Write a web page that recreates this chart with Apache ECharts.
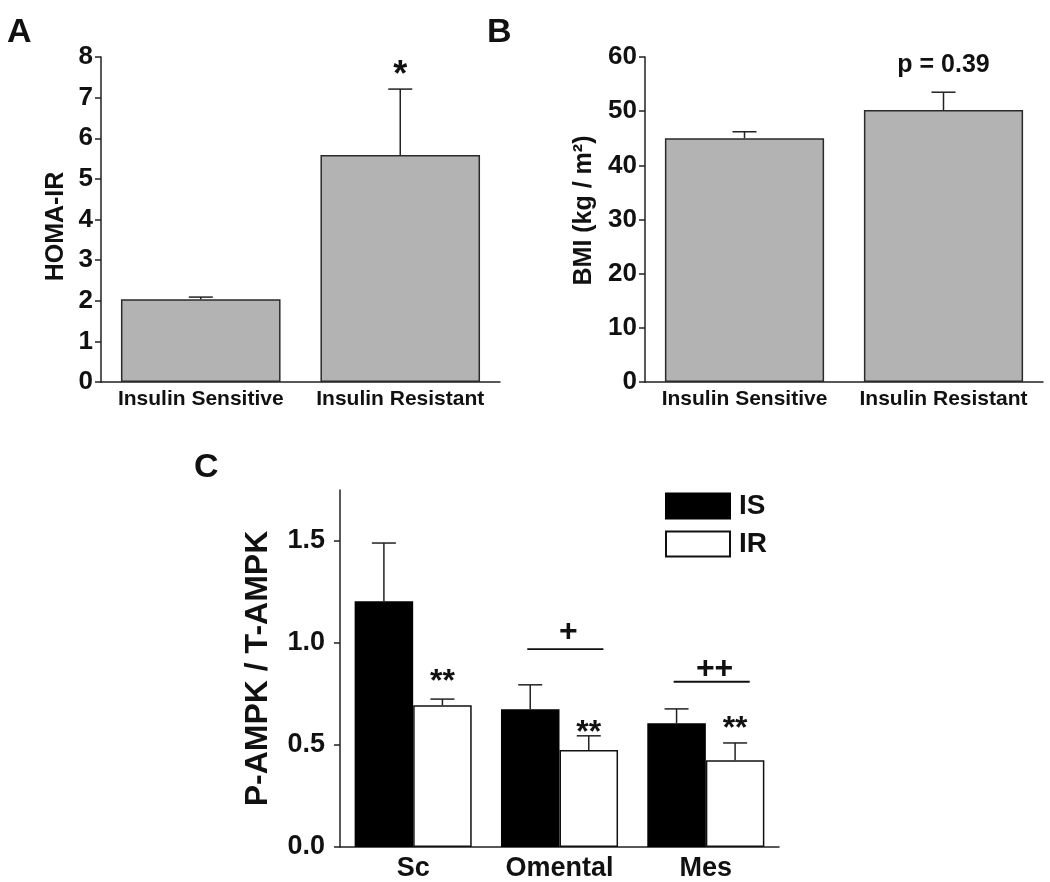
<!DOCTYPE html>
<html><head><meta charset="utf-8">
<script src="https://cdn.jsdelivr.net/npm/echarts@6/dist/echarts.min.js"></script>
<style>html,body{margin:0;padding:0;background:#fff}#c{width:1050px;height:882px}</style>
</head><body><div id="c"></div>
<script>
// ---- data ----
const groupsAB = ['Insulin Sensitive', 'Insulin Resistant'];
const homaMean = [2.04, 5.59];
const homaErr = [0.05, 1.62];
const bmiMean = [45.0, 50.2];
const bmiErr = [1.2, 3.3];
const depots = ['Sc', 'Omental', 'Mes'];
const isMean = [1.205, 0.675, 0.607];
const isErr = [0.285, 0.12, 0.07];
const irMean = [0.695, 0.475, 0.425];
const irErr = [0.03, 0.07, 0.085];
const ticksA = [0, 1, 2, 3, 4, 5, 6, 7, 8];
const ticksB = [0, 10, 20, 30, 40, 50, 60];
const ticksC = [0, 0.5, 1.0, 1.5];
// annotations (data units)
const starA = { text: '*', cat: 1, y: 7.73 };
const pB = { text: 'p = 0.39', cat: 1, y: 58.5 };
const starsC = ['**', '**', '**'];
const starsCY = [0.84, 0.59, 0.61];
const bracketCat = [1, 2];
const bracketY = [0.97, 0.81];
const bracketText = ['+', '++'];
const bracketTextY = [1.055, 0.87];

const FONT = 'Liberation Sans, Arial, Helvetica, sans-serif';
const INK = '#111';
const chart = echarts.init(document.getElementById('c'));

function yAxis(gi, min, max, interval, ticks, name, nameGap, fs, nfs, margin, fmt, npad) {
  return {
    type: 'value', gridIndex: gi, min: min, max: max, interval: interval,
    name: name, nameLocation: 'middle', nameGap: nameGap, nameRotate: 90,
    nameTextStyle: { fontFamily: FONT, fontWeight: 'bold', fontSize: nfs, color: INK, padding: npad || 0 },
    axisLine: { show: true, lineStyle: { color: '#222', width: 1.5 } },
    axisTick: { show: true, inside: false, length: 6, lineStyle: { color: '#222', width: 1.5 }, customValues: ticks },
    axisLabel: { show: true, margin: margin, fontFamily: FONT, fontWeight: 'bold', fontSize: fs, color: INK, customValues: ticks,
      formatter: fmt || (v => String(v)) },
    splitLine: { show: false }
  };
}
function xAxis(gi, cats, fs, margin) {
  return {
    type: 'category', gridIndex: gi, data: cats,
    axisLine: { show: true, lineStyle: { color: '#222', width: 1.5 } },
    axisTick: { show: false },
    axisLabel: { margin: margin, fontFamily: FONT, fontWeight: 'bold', fontSize: fs, color: INK, interval: 0 },
    splitLine: { show: false }
  };
}
function errSeries(gi, means, errs, nBars, idx) {
  return {
    type: 'custom', xAxisIndex: gi, yAxisIndex: gi, z: 5, silent: true,
    data: means.map((m, i) => [i, m, errs[i]]),
    encode: { x: 0, y: 1 },
    renderItem: function (params, api) {
      const x = api.value(0), v = api.value(1), e = api.value(2);
      const top = api.coord([x, v + e]);
      const base = api.coord([x, v]);
      const bw = api.size([1, 0])[0] * 0.8 / nBars;
      const cx = top[0] + (idx - (nBars - 1) / 2) * bw;
      const half = 12;
      const st = { stroke: '#222', lineWidth: 1.5 };
      return { type: 'group', children: [
        { type: 'line', shape: { x1: cx, y1: base[1], x2: cx, y2: top[1] }, style: st },
        { type: 'line', shape: { x1: cx - half, y1: top[1], x2: cx + half, y2: top[1] }, style: st }
      ] };
    }
  };
}
function textSeries(gi, items, fs, nBars, idx, dy) {
  return {
    type: 'custom', xAxisIndex: gi, yAxisIndex: gi, z: 6, silent: true,
    data: items.map(it => [it.cat, it.y]),
    encode: { x: 0, y: 1 },
    renderItem: function (params, api) {
      const p = api.coord([api.value(0), api.value(1)]);
      const bw = api.size([1, 0])[0] * 0.8 / nBars;
      const cx = p[0] + (idx - (nBars - 1) / 2) * bw;
      return { type: 'text', x: cx, y: p[1] + dy, style: {
        text: items[params.dataIndex].text, fill: INK, fontFamily: FONT, fontWeight: 'bold', fontSize: fs,
        align: 'center', verticalAlign: 'middle' } };
    }
  };
}

const option = {
  backgroundColor: '#fff',
  animation: false,
  title: [
    { text: 'A', left: 7, top: 16, padding: 0, textStyle: { fontFamily: FONT, fontWeight: 'bold', fontSize: 34, color: INK } },
    { text: 'B', left: 487, top: 16, padding: 0, textStyle: { fontFamily: FONT, fontWeight: 'bold', fontSize: 34, color: INK } },
    { text: 'C', left: 194, top: 451, padding: 0, textStyle: { fontFamily: FONT, fontWeight: 'bold', fontSize: 34, color: INK } }
  ],
  legend: {
    data: ['IS', 'IR'], orient: 'vertical', left: 665, top: 492, padding: 0,
    itemWidth: 64, itemHeight: 25, itemGap: 10, icon: 'rect', selectedMode: false,
    textStyle: { fontFamily: FONT, fontWeight: 'bold', fontSize: 28, color: INK, padding: [0, 0, 0, 4] }
  },
  grid: [
    { left: 101, top: 57, width: 399, height: 325, outerBoundsMode: 'none', containLabel: false },
    { left: 645, top: 57, width: 398, height: 325, outerBoundsMode: 'none', containLabel: false },
    { left: 340, top: 490, width: 439, height: 357, outerBoundsMode: 'none', containLabel: false }
  ],
  xAxis: [
    xAxis(0, groupsAB, 21, 7),
    xAxis(1, groupsAB, 21, 7),
    xAxis(2, depots, 27, 8)
  ],
  yAxis: [
    yAxis(0, 0, 8, 1, ticksA, 'HOMA-IR', 32, 26, 25, 8, null, [0, 14, 0, 0]),
    yAxis(1, 0, 60, 10, ticksB, 'BMI (kg / m²)', 48, 26, 25, 8, null, [0, 0, 0, 18]),
    yAxis(2, 0, 1.75, 0.25, ticksC, 'P-AMPK / T-AMPK', 66, 27, 32, 15, v => v.toFixed(1))
  ],
  series: [
    { type: 'bar', name: 'HOMA', xAxisIndex: 0, yAxisIndex: 0, data: homaMean, barCategoryGap: '20%',
      itemStyle: { color: '#b3b3b3', borderColor: '#2a2a2a', borderWidth: 1.5 } },
    errSeries(0, homaMean, homaErr, 1, 0),
    textSeries(0, [starA], 36, 1, 0, 8),
    { type: 'bar', name: 'BMI', xAxisIndex: 1, yAxisIndex: 1, data: bmiMean, barCategoryGap: '20%',
      itemStyle: { color: '#b3b3b3', borderColor: '#2a2a2a', borderWidth: 1.5 } },
    errSeries(1, bmiMean, bmiErr, 1, 0),
    textSeries(1, [pB], 25, 1, 0, 0),
    { type: 'bar', name: 'IS', xAxisIndex: 2, yAxisIndex: 2, data: isMean, barCategoryGap: '20%', barGap: '0%',
      itemStyle: { color: '#000', borderColor: '#000', borderWidth: 1.5 } },
    { type: 'bar', name: 'IR', xAxisIndex: 2, yAxisIndex: 2, data: irMean, barCategoryGap: '20%', barGap: '0%',
      itemStyle: { color: '#fff', borderColor: '#111', borderWidth: 1.5 } },
    errSeries(2, isMean, isErr, 2, 0),
    errSeries(2, irMean, irErr, 2, 1),
    textSeries(2, starsC.map((t, i) => ({ text: t, cat: i, y: starsCY[i] })), 32, 2, 1, 7),
    {
      type: 'custom', xAxisIndex: 2, yAxisIndex: 2, z: 6, silent: true,
      data: bracketCat.map((c, i) => [c, bracketY[i], bracketTextY[i]]),
      encode: { x: 0, y: 1 },
      renderItem: function (params, api) {
        const c = api.value(0);
        const p = api.coord([c, api.value(1)]);
        const pt = api.coord([c, api.value(2)]);
        const bw = api.size([1, 0])[0] * 0.8 / 2;
        return { type: 'group', children: [
          { type: 'line', shape: { x1: p[0] - 0.55 * bw, y1: p[1], x2: p[0] + 0.75 * bw, y2: p[1] },
            style: { stroke: '#111', lineWidth: 1.8 } },
          { type: 'text', x: p[0] + 0.15 * bw, y: pt[1], style: {
            text: bracketText[params.dataIndex], fill: INK, fontFamily: FONT, fontWeight: 'bold', fontSize: 32,
            align: 'center', verticalAlign: 'middle' } }
        ] };
      }
    }
  ]
};
chart.setOption(option);
</script></body></html>
